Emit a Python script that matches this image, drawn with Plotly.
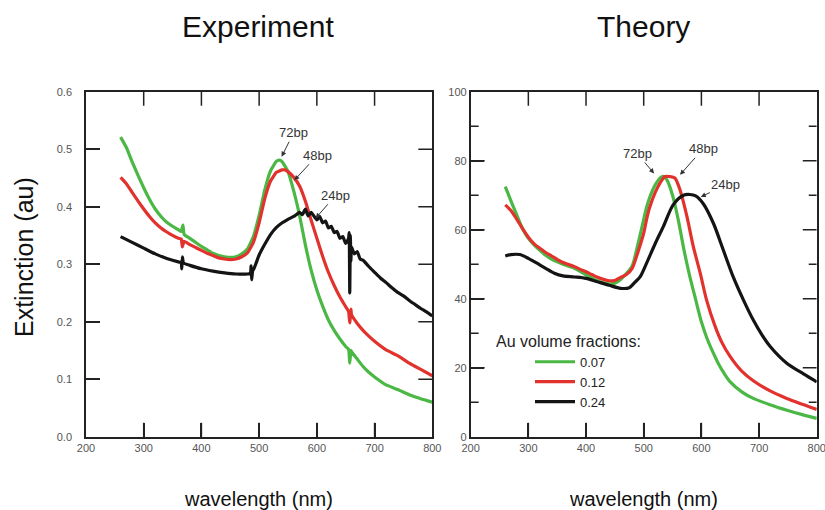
import plotly.graph_objects as go

# ---------------- Experiment: measured extinction spectra ----------------
exp_nm_g = [260, 270, 280, 290, 300, 310, 320, 330, 340, 350, 360, 365, 368, 370,
            380, 390, 400, 410, 420, 430, 440, 450, 460, 470, 480, 490, 500, 510,
            520, 530, 535, 540, 550, 560, 570, 580, 590, 600, 610, 620, 630, 640,
            650, 655, 657, 659, 660, 670, 680, 690, 700, 720, 740, 760, 780, 800]
exp_007 = [0.521, 0.503, 0.478, 0.455, 0.433, 0.413, 0.396, 0.383, 0.373, 0.366,
           0.360, 0.357, 0.368, 0.352, 0.345, 0.338, 0.331, 0.325, 0.319, 0.315,
           0.313, 0.312, 0.313, 0.318, 0.327, 0.348, 0.385, 0.430, 0.463, 0.479,
           0.481, 0.478, 0.461, 0.427, 0.385, 0.334, 0.290, 0.255, 0.227, 0.203,
           0.185, 0.170, 0.157, 0.152, 0.128, 0.150, 0.148, 0.135, 0.122, 0.112,
           0.104, 0.090, 0.082, 0.073, 0.066, 0.060]

exp_nm_r = [260, 270, 280, 290, 300, 310, 320, 330, 340, 350, 360, 365, 367, 370,
            380, 390, 400, 410, 420, 430, 440, 450, 460, 470, 480, 490, 500, 510,
            520, 530, 540, 545, 550, 560, 570, 580, 590, 600, 610, 620, 630, 640,
            650, 655, 657, 659, 660, 670, 680, 690, 700, 720, 740, 760, 780, 800]
exp_012 = [0.451, 0.440, 0.425, 0.410, 0.396, 0.383, 0.372, 0.363, 0.356, 0.350,
           0.345, 0.344, 0.330, 0.340, 0.334, 0.329, 0.324, 0.319, 0.315, 0.311,
           0.309, 0.308, 0.309, 0.313, 0.320, 0.338, 0.372, 0.415, 0.445, 0.460,
           0.464, 0.464, 0.461, 0.451, 0.436, 0.410, 0.377, 0.345, 0.314, 0.286,
           0.263, 0.243, 0.226, 0.218, 0.198, 0.222, 0.212, 0.197, 0.185, 0.175,
           0.166, 0.151, 0.141, 0.128, 0.117, 0.106]

exp_nm_k = [260, 280, 300, 320, 340, 360, 365, 366, 367, 369, 380, 400, 420, 440,
            460, 480, 485, 486, 487, 489, 490, 500, 510, 520, 530, 540, 550, 560,
            570, 575, 580, 585, 590, 600, 605, 610, 615, 620, 625, 630, 635, 640,
            645, 650, 655, 656, 657, 658, 659, 660, 665, 670, 675, 680, 690, 700,
            710, 720, 730, 740, 750, 760, 770, 780, 790, 800]
exp_024 = [0.348, 0.338, 0.328, 0.318, 0.310, 0.304, 0.303, 0.292, 0.313, 0.302,
           0.298, 0.292, 0.288, 0.285, 0.283, 0.283, 0.284, 0.297, 0.273, 0.290,
           0.290, 0.316, 0.335, 0.352, 0.364, 0.372, 0.378, 0.383, 0.390, 0.386,
           0.396, 0.384, 0.390, 0.377, 0.383, 0.372, 0.375, 0.363, 0.366, 0.355,
           0.357, 0.345, 0.348, 0.336, 0.345, 0.355, 0.250, 0.350, 0.305, 0.330,
           0.318, 0.322, 0.309, 0.307, 0.296, 0.286, 0.276, 0.268, 0.259, 0.251,
           0.245, 0.237, 0.230, 0.223, 0.217, 0.210]

# ---------------- Theory: calculated extinction spectra ----------------
th_nm_g = [260, 270, 280, 290, 300, 310, 320, 330, 340, 350, 360, 370, 380, 390,
           400, 410, 420, 430, 440, 450, 460, 470, 480, 490, 500, 505, 510, 520,
           530, 535, 540, 550, 560, 570, 580, 590, 600, 610, 620, 630, 640, 650,
           670, 690, 720, 750, 775, 800]
th_007 = [72.5, 68.3, 64.2, 60.3, 57.5, 55.6, 54.0, 52.6, 51.5, 50.7, 50.0, 49.4,
          48.8, 47.9, 46.9, 46.0, 45.2, 44.6, 44.3, 44.5, 45.6, 47.3, 49.5, 55.8,
          63.0, 66.5, 69.2, 73.0, 75.2, 75.4, 74.5, 70.0, 62.8, 54.0, 46.4, 39.8,
          33.3, 28.4, 24.5, 21.0, 18.2, 15.9, 13.0, 11.1, 9.2, 7.6, 6.4, 5.3]

th_nm_r = [260, 270, 280, 290, 300, 310, 320, 330, 340, 350, 360, 370, 380, 390,
           400, 410, 420, 430, 440, 450, 460, 470, 480, 490, 500, 505, 510, 520,
           530, 537, 545, 554, 563, 575, 586, 598, 609, 624, 635, 650, 670, 690,
           720, 748, 775, 800]
th_012 = [67.2, 65.5, 63.0, 60.3, 57.8, 55.9, 54.6, 53.4, 52.4, 51.4, 50.5, 49.9,
          49.3, 48.5, 47.8, 47.0, 46.2, 45.6, 45.2, 45.3, 46.2, 47.0, 48.8, 53.5,
          59.0, 63.0, 66.3, 70.8, 74.0, 75.4, 75.4, 75.0, 71.5, 63.8, 55.1, 47.4,
          39.6, 31.9, 27.5, 23.2, 19.0, 16.2, 13.2, 11.1, 9.4, 7.9]

th_nm_k = [260, 270, 285, 300, 315, 330, 345, 360, 380, 400, 420, 440, 460, 475,
           485, 494, 505, 520, 534, 551, 569, 580, 590, 603, 621, 638, 655, 673,
           690, 705, 720, 748, 777, 800]
th_024 = [52.4, 52.8, 52.8, 51.7, 50.3, 48.8, 47.4, 46.6, 46.3, 45.9, 44.9, 43.9,
          43.0, 43.2, 44.8, 46.4, 50.3, 56.0, 60.9, 67.2, 70.0, 70.2, 69.8, 67.6,
          61.8, 54.1, 46.4, 39.6, 33.8, 29.5, 26.0, 21.3, 18.2, 15.9]

fractions = ["0.07", "0.12", "0.24"]
colors = ["#4bb845", "#e2322d", "#141414"]

# tick positions (labelled and unlabelled)
x_ticks = [300, 400, 500, 600, 700]
exp_y_ticks = [0.1, 0.2, 0.3, 0.4, 0.5]
th_y_major = [20, 40, 60, 80]
th_y_minor = [10, 30, 50, 70, 90]

# peak labels: (text, head wavelength, head value, tail dx, tail dy)
exp_labels = [("72bp", 539, 0.487, 12, -24),
              ("48bp", 561, 0.446, 23, -25),
              ("24bp", 598, 0.380, 20, -23)]
th_labels = [("72bp", 518, 76.3, -17, -20),
             ("48bp", 563, 75.9, 23, -26),
             ("24bp", 599, 69.5, 25, -12)]

FONT = "Liberation Sans, Arial, Helvetica, sans-serif"
AXC = "#222222"
W, H = 825, 510
X_DOM_L = [0.1042, 0.524]
X_DOM_R = [0.5705, 0.99]
Y_DOM = [0.1437, 0.8202]
X_RANGE = [200, 800]
Y_RANGE_EXP = [0, 0.6]
Y_RANGE_TH = [0, 100]

# panel size in pixels, used to express tick lengths in data units
PANEL_W = (X_DOM_L[1] - X_DOM_L[0]) * W
PANEL_H = (Y_DOM[1] - Y_DOM[0]) * H

fig = go.Figure()

exp_sets = [(exp_nm_g, exp_007), (exp_nm_r, exp_012), (exp_nm_k, exp_024)]
th_sets = [(th_nm_g, th_007), (th_nm_r, th_012), (th_nm_k, th_024)]

for (xs, ys), c in zip(exp_sets, colors):
    fig.add_trace(go.Scatter(x=xs, y=ys, mode="lines", xaxis="x", yaxis="y",
                             line=dict(color=c, width=3.2, shape="spline", smoothing=0.4),
                             showlegend=False, hoverinfo="skip"))

for (xs, ys), c, name in zip(th_sets, colors, fractions):
    fig.add_trace(go.Scatter(x=xs, y=ys, mode="lines", xaxis="x2", yaxis="y2",
                             name=name,
                             line=dict(color=c, width=3.2, shape="spline", smoothing=0.8),
                             hoverinfo="skip"))


def tick_segments(x_vals, y_vals, x_range, y_range, len_px_x, len_px_y):
    """Inward tick segments on all four sides of a panel, in data units."""
    dx = len_px_y * (x_range[1] - x_range[0]) / PANEL_W
    dy = len_px_x * (y_range[1] - y_range[0]) / PANEL_H
    xs, ys = [], []
    for v in x_vals:
        xs += [v, v, None, v, v, None]
        ys += [y_range[0], y_range[0] + dy, None, y_range[1], y_range[1] - dy, None]
    for v in y_vals:
        xs += [x_range[0], x_range[0] + dx, None, x_range[1], x_range[1] - dx, None]
        ys += [v, v, None, v, v, None]
    return xs, ys


tick_sets = [
    ("x", "y", tick_segments(x_ticks, exp_y_ticks, X_RANGE, Y_RANGE_EXP, 14, 14)),
    ("x2", "y2", tick_segments(x_ticks, th_y_major, X_RANGE, Y_RANGE_TH, 14, 14)),
    ("x2", "y2", tick_segments([], th_y_minor, X_RANGE, Y_RANGE_TH, 8, 8)),
]
for xa, ya, (tx, ty) in tick_sets:
    fig.add_trace(go.Scatter(x=tx, y=ty, mode="lines", xaxis=xa, yaxis=ya,
                             line=dict(color=AXC, width=1.5), connectgaps=False,
                             cliponaxis=False, showlegend=False, hoverinfo="skip"))


def axis_style(**extra):
    # boxed axis: line on all four sides, labels on bottom/left
    style = dict(
        showline=True, linecolor=AXC, linewidth=1.5, mirror=True,
        ticks="inside", ticklen=14, tickwidth=1.5, tickcolor=AXC,
        showgrid=False, zeroline=False,
        tickfont=dict(family=FONT, size=11, color="#555555"),
    )
    style.update(extra)
    return style


fig.update_layout(
    template="none",
    width=W, height=H,
    margin=dict(l=0, r=0, t=0, b=0),
    paper_bgcolor="white", plot_bgcolor="white",
    font=dict(family=FONT, color="#111111"),
    xaxis=axis_style(domain=X_DOM_L, range=X_RANGE, dtick=100, anchor="y",
                     ticklabeloverflow="allow"),
    yaxis=axis_style(domain=Y_DOM, range=Y_RANGE_EXP, dtick=0.1,
                     tickformat=".1f", anchor="x", ticklabelstandoff=10,
                     ticklabeloverflow="allow"),
    xaxis2=axis_style(domain=X_DOM_R, range=X_RANGE, dtick=100, anchor="y2",
                      ticklabeloverflow="allow"),
    yaxis2=axis_style(domain=Y_DOM, range=Y_RANGE_TH, dtick=20, anchor="x2",
                      ticklabeloverflow="allow"),
    legend=dict(
        x=494 / W, y=1 - 326 / H, xanchor="left", yanchor="top",
        bgcolor="rgba(0,0,0,0)", borderwidth=0,
        font=dict(family=FONT, size=13, color="#222222"),
        title=dict(text="Au volume fractions:", side="top",
                   font=dict(family=FONT, size=16, color="#222222")),
        indentation=36, itemwidth=40, tracegroupgap=0,
    ),
)

annotations = []
for text, hx, hy, dx, dy in exp_labels:
    annotations.append(dict(x=hx, y=hy, xref="x", yref="y", text=text,
                            ax=dx, ay=dy, showarrow=True, arrowhead=2,
                            arrowsize=1, arrowwidth=1, arrowcolor="#333333",
                            font=dict(family=FONT, size=13, color="#333333")))
for text, hx, hy, dx, dy in th_labels:
    annotations.append(dict(x=hx, y=hy, xref="x2", yref="y2", text=text,
                            ax=dx, ay=dy, showarrow=True, arrowhead=2,
                            arrowsize=1, arrowwidth=1, arrowcolor="#333333",
                            font=dict(family=FONT, size=13, color="#333333")))

# panel headings and axis titles
annotations += [
    dict(text="Experiment", x=258 / W, y=1 - 26 / H, xref="paper", yref="paper",
         showarrow=False, xanchor="center", yanchor="middle",
         font=dict(family=FONT, size=30, color="#111111")),
    dict(text="Theory", x=643 / W, y=1 - 26 / H, xref="paper", yref="paper",
         showarrow=False, xanchor="center", yanchor="middle",
         font=dict(family=FONT, size=30, color="#111111")),
    dict(text="wavelength (nm)", x=258 / W, y=1 - 499 / H, xref="paper", yref="paper",
         showarrow=False, xanchor="center", yanchor="middle",
         font=dict(family=FONT, size=20, color="#111111")),
    dict(text="wavelength (nm)", x=643 / W, y=1 - 499 / H, xref="paper", yref="paper",
         showarrow=False, xanchor="center", yanchor="middle",
         font=dict(family=FONT, size=20, color="#111111")),
    dict(text="Extinction (au)", x=24 / W, y=1 - 257 / H, xref="paper", yref="paper",
         showarrow=False, xanchor="center", yanchor="middle", textangle=-90,
         font=dict(family=FONT, size=25, color="#111111")),
]
fig.update_layout(annotations=annotations)

fig.write_html("out.html")
